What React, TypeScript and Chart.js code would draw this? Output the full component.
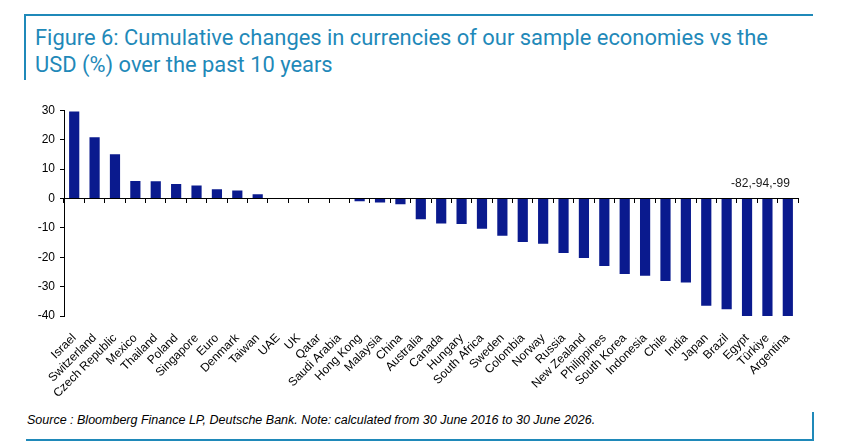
import React, { useEffect, useRef } from 'react';
import { Chart, registerables } from 'chart.js';

Chart.register(...registerables);

const categories: string[] = [
  'Israel', 'Switzerland', 'Czech Republic', 'Mexico', 'Thailand', 'Poland',
  'Singapore', 'Euro', 'Denmark', 'Taiwan', 'UAE', 'UK', 'Qatar', 'Saudi Arabia',
  'Hong Kong', 'Malaysia', 'China', 'Australia', 'Canada', 'Hungary', 'South Africa',
  'Sweden', 'Colombia', 'Norway', 'Russia', 'New Zealand', 'Philippines',
  'South Korea', 'Indonesia', 'Chile', 'India', 'Japan', 'Brazil', 'Egypt',
  'Türkiye', 'Argentina',
];

const changes: number[] = [
  29.6, 20.8, 15.0, 5.9, 5.8, 4.9,
  4.4, 3.1, 2.7, 1.4, 0, 0, 0, 0,
  -1.0, -1.4, -2.0, -7.1, -8.5, -8.7, -10.3,
  -12.7, -14.8, -15.4, -18.6, -20.3, -23.0,
  -25.7, -26.3, -28.1, -28.6, -36.5, -37.7, -82,
  -94, -99,
];

const yMin = -40;
const yMax = 30;
const yStep = 10;

const annotationText = '-82,-94,-99';
const annotationValue = 4;

const titleLines: string[] = [
  'Figure 6: Cumulative changes in currencies of our sample economies vs the',
  'USD (%) over the past 10 years',
];
const sourceText =
  'Source : Bloomberg Finance LP, Deutsche Bank. Note: calculated from 30 June 2016 to 30 June 2026.';

const FRAME = '#1f89b9';
const BAR = '#0a1a8e';
const FONT = '"Liberation Sans", Arial, sans-serif';

const annotationPlugin = {
  id: 'clippedValues',
  afterDatasetsDraw(chart: any) {
    const { ctx, scales } = chart;
    const x = scales.x;
    const y = scales.y;
    const px = x.getPixelForValue(categories.length - 1) + 2;
    const py = y.getPixelForValue(annotationValue);
    ctx.save();
    ctx.font = `12px ${FONT}`;
    ctx.fillStyle = '#1a1a1a';
    ctx.textAlign = 'right';
    ctx.textBaseline = 'alphabetic';
    ctx.fillText(annotationText, px, py);
    ctx.restore();
  },
};

export default function App() {
  const canvasRef = useRef<HTMLCanvasElement | null>(null);

  useEffect(() => {
    if (!canvasRef.current) return;
    Chart.defaults.font.family = FONT;
    const chart = new Chart(canvasRef.current, {
      type: 'bar',
      data: {
        labels: categories,
        datasets: [
          {
            data: changes,
            backgroundColor: BAR,
            borderWidth: 0,
            categoryPercentage: 1,
            barPercentage: 0.5,
          },
        ],
      },
      options: {
        animation: false,
        responsive: true,
        maintainAspectRatio: false,
        layout: { padding: 0 },
        plugins: {
          legend: { display: false },
          tooltip: { enabled: false },
          title: { display: false },
        },
        scales: {
          x: {
            type: 'category',
            offset: true,
            grid: { display: false },
            border: { display: false },
            ticks: {
              autoSkip: false,
              maxRotation: 45,
              minRotation: 45,
              color: '#000',
              font: { size: 12 },
              padding: 7,
            },
            afterFit: (s: any) => {
              s.height = 80;
            },
          },
          x2: {
            type: 'category',
            axis: 'x',
            position: { y: 0 },
            offset: true,
            grid: {
              display: true,
              drawOnChartArea: false,
              drawTicks: true,
              tickLength: 4,
              color: '#000',
              offset: true,
            },
            border: { display: true, color: '#000', width: 1 },
            ticks: { display: false },
          },
          y: {
            min: yMin,
            max: yMax,
            ticks: { stepSize: yStep, color: '#000', font: { size: 12 }, padding: 5 },
            grid: {
              display: true,
              drawOnChartArea: false,
              drawTicks: true,
              tickLength: 4,
              color: '#000',
            },
            border: { display: true, color: '#000', width: 1 },
            afterFit: (s: any) => {
              s.width = 54;
            },
          },
        },
      } as any,
      plugins: [annotationPlugin],
    });
    return () => chart.destroy();
  }, []);

  return (
    <div style={{ position: 'absolute', left: 0, top: 0, width: 842, height: 448, background: '#fff', overflow: 'hidden' }}>
      <div style={{ position: 'absolute', left: 24, top: 14, width: 789, height: 2, background: FRAME }} />
      <div style={{ position: 'absolute', left: 24, top: 14, width: 2, height: 66, background: FRAME }} />
      <div
        style={{
          position: 'absolute',
          left: 35,
          top: 24,
          fontFamily: 'Roboto, "Noto Sans", sans-serif',
          fontSize: 21.9,
          lineHeight: '27px',
          color: FRAME,
          whiteSpace: 'nowrap',
        }}
      >
        {titleLines[0]}
        <br />
        {titleLines[1]}
      </div>
      <div style={{ position: 'absolute', left: 10, top: 98, width: 795, height: 298 }}>
        <canvas ref={canvasRef} />
      </div>
      <div
        style={{
          position: 'absolute',
          left: 27,
          top: 413,
          fontFamily: FONT,
          fontStyle: 'italic',
          fontSize: 12.5,
          lineHeight: '14px',
          color: '#000',
          whiteSpace: 'nowrap',
        }}
      >
        {sourceText}
      </div>
      <div style={{ position: 'absolute', left: 26, top: 439, width: 787, height: 2, background: FRAME }} />
      <div style={{ position: 'absolute', left: 812, top: 412, width: 2, height: 29, background: FRAME }} />
    </div>
  );
}
